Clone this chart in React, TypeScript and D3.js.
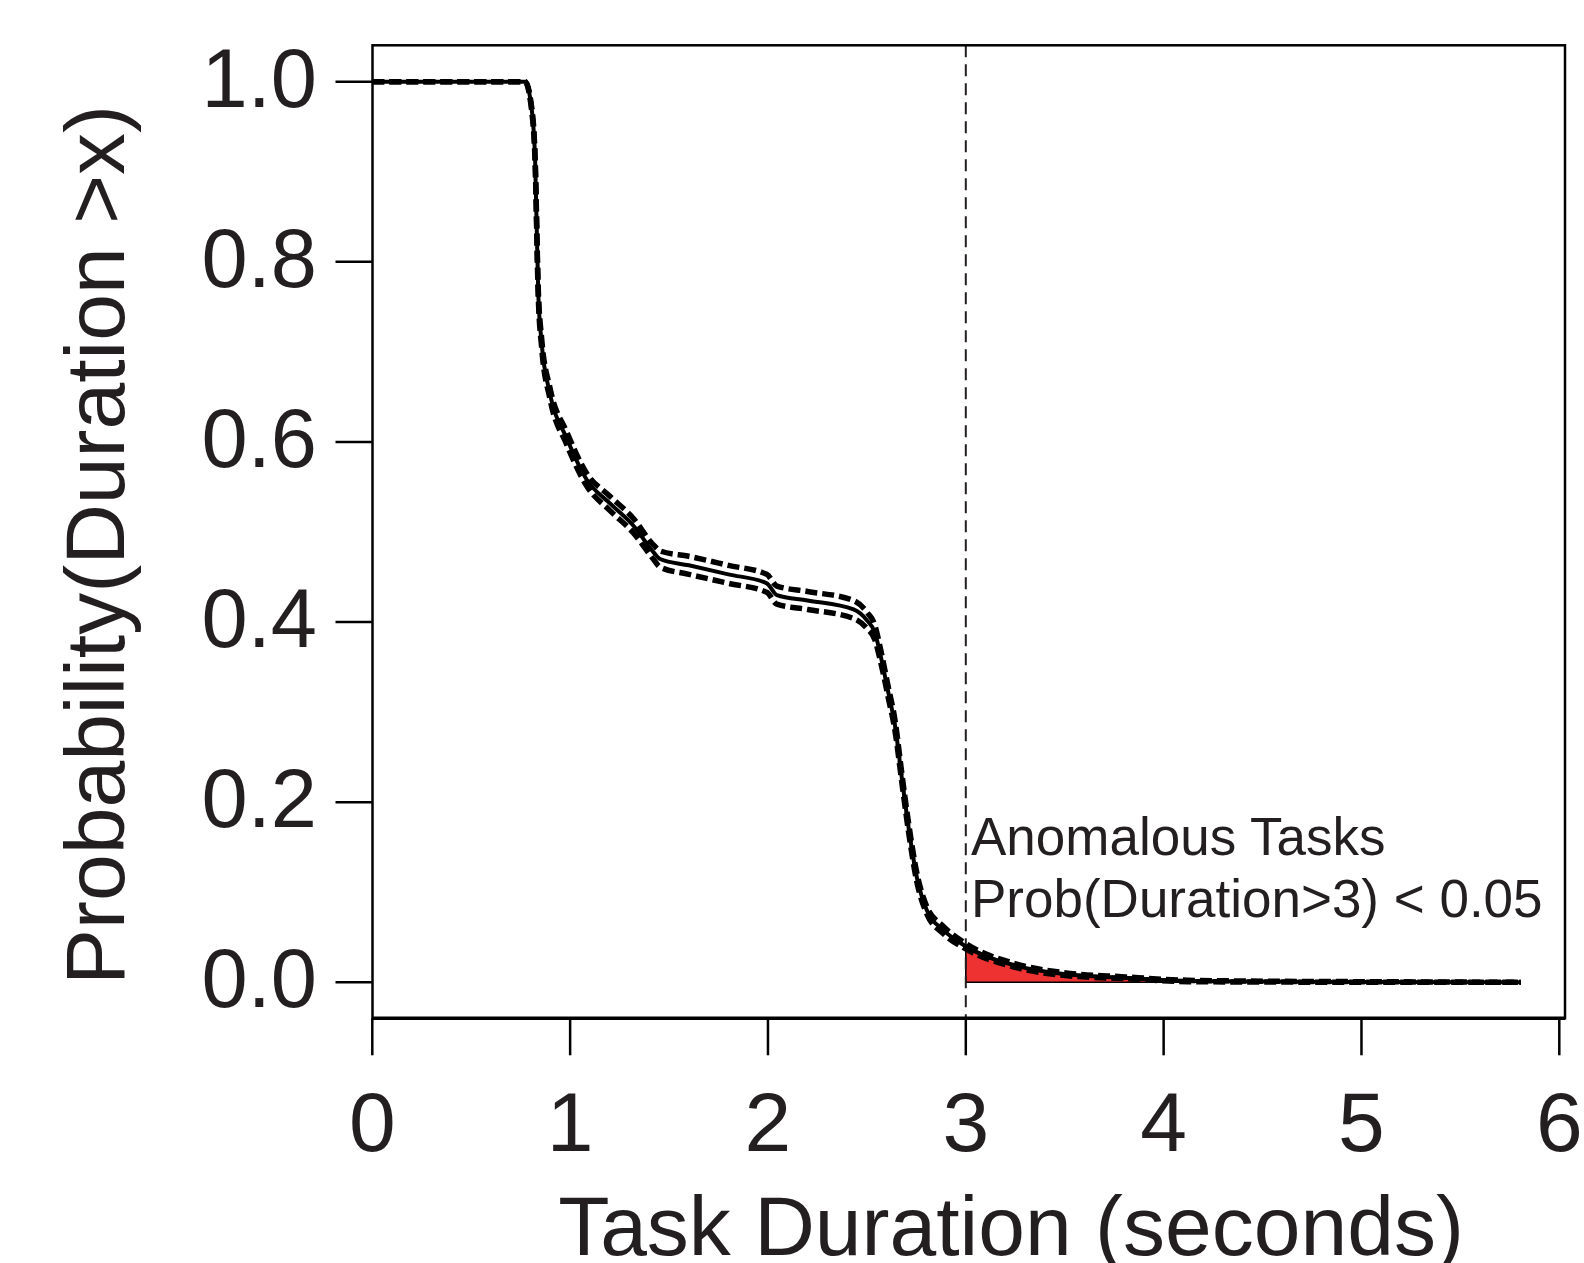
import React from "react";
import * as d3 from "d3";

// ---- data ----
const durations = [0, 0.772, 0.806, 0.823, 0.839, 0.856, 0.898, 0.983, 1.084, 1.2, 1.32, 1.42, 1.455, 1.6, 1.8, 1.994, 2.045, 2.2, 2.432, 2.5, 2.541, 2.567, 2.609, 2.643, 2.676, 2.71, 2.752, 2.803, 2.887, 3.0, 3.244, 3.494, 3.805, 4.12, 4.5, 5.0, 5.806];
const survival = [1, 1, 0.969, 0.913, 0.765, 0.71, 0.654, 0.604, 0.558, 0.532, 0.507, 0.478, 0.47, 0.463, 0.453, 0.443, 0.43, 0.424, 0.414, 0.402, 0.388, 0.365, 0.321, 0.284, 0.228, 0.173, 0.117, 0.08, 0.058, 0.04, 0.019, 0.0092, 0.005, 0.0015, 0.0008, 0.0004, 0];
const ciUpper = [1, 1, 0.971, 0.916, 0.769, 0.715, 0.66, 0.611, 0.565, 0.54, 0.515, 0.486, 0.479, 0.473, 0.463, 0.453, 0.44, 0.434, 0.424, 0.411, 0.396, 0.372, 0.327, 0.29, 0.233, 0.178, 0.122, 0.084, 0.062, 0.043, 0.021, 0.0107, 0.006, 0.0023, 0.0013, 0.0007, 0];
const ciLower = [1, 1, 0.967, 0.91, 0.761, 0.705, 0.648, 0.597, 0.551, 0.524, 0.499, 0.47, 0.461, 0.453, 0.443, 0.433, 0.42, 0.414, 0.404, 0.393, 0.38, 0.358, 0.315, 0.278, 0.223, 0.168, 0.112, 0.076, 0.054, 0.037, 0.017, 0.0077, 0.004, 0.0007, 0.0003, 0.0001, 0];

const xTicks = [0, 1, 2, 3, 4, 5, 6];
const yTicks = [0, 0.2, 0.4, 0.6, 0.8, 1.0];
const yTickLabels = ["0.0", "0.2", "0.4", "0.6", "0.8", "1.0"];
const threshold = 3;
const annotationLines = ["Anomalous Tasks", "Prob(Duration>3) < 0.05"];
const xTitle = "Task Duration (seconds)";
const yTitle = "Probability(Duration >x)";

const W = 1584;
const H = 1263;
const FONT = "'Liberation Sans', Arial, Helvetica, sans-serif";
const TEXT = "#231f20";

export default function App() {
  const x = d3.scaleLinear().domain([0, 6]).range([372.3, 1559.3]);
  const y = d3.scaleLinear().domain([0, 1]).range([982.3, 81.7]);
  const boxL = 372.5, boxR = 1565, boxT = 45.3, boxB = 1018.3;
  const tickLen = 37;

  const pts = durations.map((d, i) => ({ d, s: survival[i], u: ciUpper[i], l: ciLower[i] }));
  const curve = d3.curveMonotoneX;
  const lineS = d3.line<any>().x((p) => x(p.d)).y((p) => y(p.s)).curve(curve);
  const lineU = d3.line<any>().x((p) => x(p.d)).y((p) => y(p.u)).curve(curve);
  const lineL = d3.line<any>().x((p) => x(p.d)).y((p) => y(p.l)).curve(curve);
  const tail = pts.filter((p) => p.d >= threshold);
  const area = d3.area<any>().x((p) => x(p.d)).y0(y(0)).y1((p) => y(p.s)).curve(curve);

  return (
    <svg width={W} height={H} style={{ position: "absolute", left: 0, top: 0, display: "block", background: "#fff" }}>
      <rect x={0} y={0} width={W} height={H} fill="#fff" />
      {/* red tail */}
      <path d={area(tail) || ""} fill="#ee3232" stroke="#000" strokeWidth={1.5} />
      {/* threshold line */}
      <line x1={x(threshold)} x2={x(threshold)} y1={boxT} y2={boxB} stroke="#231f20" strokeWidth={2} strokeDasharray="12,7" />
      {/* confidence bands */}
      <path d={lineU(pts) || ""} fill="none" stroke="#000" strokeWidth={5.5} strokeDasharray="12,5" />
      <path d={lineL(pts) || ""} fill="none" stroke="#000" strokeWidth={5.5} strokeDasharray="12,5" />
      {/* main curve */}
      <path d={lineS(pts) || ""} fill="none" stroke="#000" strokeWidth={4} strokeLinejoin="round" />
      {/* box */}
      <rect x={boxL} y={boxT} width={boxR - boxL} height={boxB - boxT} fill="none" stroke="#000" strokeWidth={2.5} />
      <line x1={x(0)} x2={boxR} y1={boxB} y2={boxB} stroke="#000" strokeWidth={3.5} />
      {/* x ticks */}
      {xTicks.map((t) => (
        <g key={"xt" + t}>
          <line x1={x(t)} x2={x(t)} y1={boxB} y2={boxB + tickLen} stroke="#000" strokeWidth={2.5} />
          <text x={x(t)} y={1151} textAnchor="middle" fontFamily={FONT} fontSize={84} fill={TEXT}>
            {t}
          </text>
        </g>
      ))}
      {/* y ticks */}
      {yTicks.map((t, i) => (
        <g key={"yt" + t}>
          <line x1={boxL - tickLen} x2={boxL} y1={y(t)} y2={y(t)} stroke="#000" strokeWidth={2.5} />
          <text x={317} y={y(t) + 25} textAnchor="end" fontFamily={FONT} fontSize={83} fill={TEXT}>
            {yTickLabels[i]}
          </text>
        </g>
      ))}
      {/* axis titles */}
      <text x={1011} y={1255} textAnchor="middle" fontFamily={FONT} fontSize={84} fill={TEXT}>
        {xTitle}
      </text>
      <text transform={`translate(124,545) rotate(-90)`} textAnchor="middle" fontFamily={FONT} fontSize={84} fill={TEXT}>
        {yTitle}
      </text>
      {/* annotation */}
      {annotationLines.map((s, i) => (
        <text key={s} x={971} y={855 + i * 62} fontFamily={FONT} fontSize={53} fill={TEXT}>
          {s}
        </text>
      ))}
    </svg>
  );
}
